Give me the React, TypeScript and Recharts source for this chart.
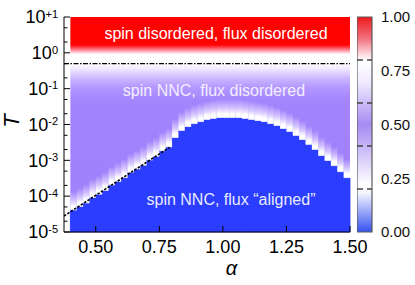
import React from "react";
import {
  ComposedChart,
  BarChart,
  Bar,
  Line,
  XAxis,
  YAxis,
  ReferenceArea,
  ReferenceLine,
} from "recharts";

const FONT = "'Liberation Sans', Arial, Helvetica, sans-serif";

// heat map columns: left edge in alpha, and the top of the "aligned" (blue) phase
const alphaCols = [
  0.4, 0.425, 0.45, 0.475, 0.5, 0.525, 0.55, 0.575, 0.6, 0.625, 0.65, 0.675,
  0.7, 0.725, 0.75, 0.775, 0.8, 0.825, 0.85, 0.875, 0.9, 0.925, 0.95, 0.975,
  1.0, 1.025, 1.05, 1.075, 1.1, 1.125, 1.15, 1.175, 1.2, 1.225, 1.25, 1.275,
  1.3, 1.325, 1.35, 1.375, 1.4, 1.425, 1.45, 1.475,
];
const tcValues = [
  4.0e-5, 5.0e-5, 6.3e-5, 8.9e-5, 1.1e-4, 1.4e-4, 2.0e-4, 2.5e-4, 3.2e-4,
  4.5e-4, 5.6e-4, 7.1e-4, 1.0e-3, 1.26e-3, 1.8e-3, 2.3e-3, 4.2e-3, 6.6e-3,
  8.5e-3, 1.03e-2, 1.17e-2, 1.34e-2, 1.43e-2, 1.52e-2, 1.52e-2, 1.52e-2,
  1.52e-2, 1.43e-2, 1.34e-2, 1.25e-2, 1.17e-2, 1.03e-2, 9.1e-3, 7.5e-3,
  6.2e-3, 4.8e-3, 3.7e-3, 2.7e-3, 1.95e-3, 1.32e-3, 9.6e-4, 6.9e-4, 4.7e-4,
  3.2e-4,
];
const colWidth = 0.025;
const bandFactor = 3.4; // white crossover band above the boundary

const tMin = 1e-5;
const tMax = 10;
const tFlux = 0.5; // spin ordering temperature (dash-dot line)
const alphaMin = 0.375;
const alphaMax = 1.5;
const mapStart = 0.4;

const fitLine = [
  { alpha: 0.375, T: 2.8e-5 },
  { alpha: 0.79, T: 2.3e-3 },
];

const xTicks = [0.5, 0.75, 1, 1.25, 1.5];
const xTopTicks = [0.5, 0.75, 1, 1.25];
const yTicks = [
  1e-5, 2e-5, 5e-5, 1e-4, 2e-4, 5e-4, 1e-3, 2e-3, 5e-3, 1e-2, 2e-2, 5e-2, 1e-1,
  2e-1, 5e-1, 1, 2, 5, 10,
];
const cbTicks = [0, 0.25, 0.5, 0.75, 1];
const cbMinor = [0.2, 0.4, 0.6, 0.8];
const cbData = [{ k: "c", v: 1 }];

const BLUE = "#2b3dff";

const isMajor = (v: number) => {
  const lg = Math.log10(v);
  return Math.abs(lg - Math.round(lg)) < 1e-6;
};

function LeftTick({ x, y, payload }: any) {
  const v = payload.value;
  if (!isMajor(v)) {
    return <line x1={x} x2={x + 3.5} y1={y} y2={y} stroke="#000" />;
  }
  const exp = Math.round(Math.log10(v));
  const sup = exp > 0 ? `+${exp}` : `${exp}`;
  return (
    <g>
      <line x1={x} x2={x + 6} y1={y} y2={y} stroke="#000" />
      <text
        x={x - 6}
        y={y + 6.3}
        textAnchor="end"
        fontSize={18}
        fill="#000"
        fontFamily={FONT}
      >
        10
        <tspan fontSize={11} dy={-5.5}>
          {sup}
        </tspan>
      </text>
    </g>
  );
}

function RightTick({ x, y, payload }: any) {
  const len = isMajor(payload.value) ? 6 : 3.5;
  return <line x1={x} x2={x - len} y1={y} y2={y} stroke="#000" />;
}

function BottomTick({ x, y, payload }: any) {
  return (
    <g>
      <line x1={x} x2={x} y1={y} y2={y - 6} stroke="#000" />
      <text
        x={x}
        y={y + 20.5}
        textAnchor="middle"
        fontSize={18}
        fill="#000"
        fontFamily={FONT}
      >
        {payload.value.toFixed(2)}
      </text>
    </g>
  );
}

function TopTick({ x, y }: any) {
  return <line x1={x} x2={x} y1={y} y2={y + 6} stroke="#000" />;
}

export default function App() {
  return (
    <div
      style={{
        position: "absolute",
        left: 0,
        top: 0,
        width: 415,
        height: 285,
        background: "#fff",
        fontFamily: FONT,
      }}
    >
      <svg width={0} height={0} style={{ position: "absolute" }}>
        <defs>
          <linearGradient id="redGrad" x1="0" y1="0" x2="0" y2="1">
            <stop offset="0" stopColor="#ff0000" />
            <stop offset="0.6" stopColor="#ff0404" />
            <stop offset="0.7" stopColor="#ff7c90" />
            <stop offset="0.8" stopColor="#ffffff" />
            <stop offset="1" stopColor="#ffffff" />
          </linearGradient>
          <linearGradient id="purpleGrad" x1="0" y1="0" x2="0" y2="1">
            <stop offset="0" stopColor="#ffffff" />
            <stop offset="0.03" stopColor="#f1ebff" />
            <stop offset="0.08" stopColor="#cfbcff" />
            <stop offset="0.14" stopColor="#b497ff" />
            <stop offset="0.22" stopColor="#a484fd" />
            <stop offset="1" stopColor="#a080fb" />
          </linearGradient>
          <linearGradient id="bandGrad" x1="0" y1="0" x2="0" y2="1">
            <stop offset="0" stopColor="#ffffff" stopOpacity={0} />
            <stop offset="0.5" stopColor="#ffffff" stopOpacity={0.55} />
            <stop offset="0.78" stopColor="#ffffff" stopOpacity={1} />
            <stop offset="0.93" stopColor="#ffffff" stopOpacity={1} />
            <stop offset="1" stopColor="#c8ceff" stopOpacity={1} />
          </linearGradient>
          <linearGradient id="cbGrad" x1="0" y1="0" x2="0" y2="1">
            <stop offset="0" stopColor="#ee1a1a" />
            <stop offset="0.1" stopColor="#f2707e" />
            <stop offset="0.2" stopColor="#ffffff" />
            <stop offset="0.3" stopColor="#f1ecff" />
            <stop offset="0.5" stopColor="#a68bf2" />
            <stop offset="0.65" stopColor="#d6cafa" />
            <stop offset="0.78" stopColor="#ffffff" />
            <stop offset="0.82" stopColor="#f3f4ff" />
            <stop offset="1" stopColor="#3552f0" />
          </linearGradient>
        </defs>
      </svg>

      <div style={{ position: "absolute", left: 0, top: 0 }}>
        <ComposedChart
          width={415}
          height={285}
          data={fitLine}
          margin={{ top: 17, right: 65, bottom: 23, left: 0 }}
        >
          <ReferenceArea
            x1={mapStart}
            x2={alphaMax}
            y1={tMin}
            y2={tFlux}
            fill="url(#purpleGrad)"
            fillOpacity={1}
            stroke="none"
          />
          <ReferenceArea
            x1={mapStart}
            x2={alphaMax}
            y1={tFlux}
            y2={tMax}
            fill="url(#redGrad)"
            fillOpacity={1}
            stroke="none"
          />
          {alphaCols.map((a, i) => (
            <ReferenceArea
              key={`b-${i}`}
              x1={a}
              x2={a + colWidth}
              y1={tMin}
              y2={tcValues[i]}
              fill={BLUE}
              fillOpacity={1}
              stroke={BLUE}
              strokeWidth={0.8}
            />
          ))}
          {alphaCols.map((a, i) => (
            <ReferenceArea
              key={`w-${i}`}
              x1={a}
              x2={a + colWidth}
              y1={tcValues[i]}
              y2={tcValues[i] * bandFactor}
              fill="url(#bandGrad)"
              fillOpacity={1}
              stroke="none"
            />
          ))}
          <ReferenceLine
            y={tFlux}
            stroke="#000"
            strokeWidth={1.2}
            strokeDasharray="5 1.5 1.5 1.5"
          />
          <Line
            dataKey="T"
            stroke="#000"
            strokeWidth={1.6}
            strokeDasharray="2.5 1.5"
            dot={false}
            type="linear"
            isAnimationActive={false}
          />
          <XAxis
            dataKey="alpha"
            type="number"
            domain={[alphaMin, alphaMax]}
            allowDataOverflow
            ticks={xTicks}
            interval={0}
            height={30}
            tickSize={0}
            tickMargin={0}
            tickLine={false}
            axisLine={{ stroke: "#000" }}
            tick={<BottomTick />}
          />
          <XAxis
            xAxisId="top"
            orientation="top"
            type="number"
            domain={[alphaMin, alphaMax]}
            allowDataOverflow
            ticks={xTopTicks}
            interval={0}
            height={0}
            tickSize={0}
            tickMargin={0}
            tickLine={false}
            axisLine={{ stroke: "#000" }}
            tick={<TopTick />}
          />
          <YAxis
            type="number"
            scale="log"
            domain={[tMin, tMax]}
            allowDataOverflow
            ticks={yTicks}
            interval={0}
            width={64}
            tickSize={0}
            tickMargin={0}
            tickLine={false}
            axisLine={{ stroke: "#000" }}
            tick={<LeftTick />}
          />
          <YAxis
            yAxisId="right"
            orientation="right"
            type="number"
            scale="log"
            domain={[tMin, tMax]}
            allowDataOverflow
            ticks={yTicks}
            interval={0}
            width={0}
            tickSize={0}
            tickMargin={0}
            tickLine={false}
            axisLine={{ stroke: "#000" }}
            tick={<RightTick />}
          />
        </ComposedChart>
      </div>

      <div style={{ position: "absolute", left: 357, top: 0 }}>
        <BarChart
          width={58}
          height={285}
          data={cbData}
          barCategoryGap={0}
          margin={{ top: 17, right: 0, bottom: 53, left: 0 }}
        >
          <XAxis dataKey="k" hide />
          <YAxis
            orientation="right"
            type="number"
            domain={[0, 1]}
            ticks={cbTicks}
            interval={0}
            width={43}
            tickSize={0}
            tickMargin={9}
            tickLine={false}
            axisLine={false}
            tickFormatter={(v: number) => v.toFixed(2)}
            tick={{ fontSize: 15, fill: "#111", fontFamily: FONT }}
          />
          <Bar
            dataKey="v"
            fill="url(#cbGrad)"
            stroke="#5a5a5a"
            strokeWidth={1.2}
            isAnimationActive={false}
          />
          {cbMinor.map((v) => (
            <ReferenceLine
              key={v}
              y={v}
              stroke="#444"
              strokeWidth={1.3}
              strokeDasharray="5 4 6"
            />
          ))}
        </BarChart>
      </div>

      <svg
        width={415}
        height={285}
        style={{ position: "absolute", left: 0, top: 0, pointerEvents: "none" }}
      >
        <text
          x={216}
          y={38.5}
          textAnchor="middle"
          fontSize={16}
          fill="#ffffff"
          fontFamily={FONT}
        >
          spin disordered, flux disordered
        </text>
        <text
          x={214}
          y={96}
          textAnchor="middle"
          fontSize={16}
          fill="#f3efff"
          fontFamily={FONT}
        >
          spin NNC, flux disordered
        </text>
        <text
          x={231}
          y={205}
          textAnchor="middle"
          fontSize={16}
          fill="#e8ebff"
          fontFamily={FONT}
        >
          spin NNC, flux “aligned”
        </text>
        <text
          transform="translate(11,121) rotate(-90)"
          textAnchor="middle"
          dy="0.36em"
          fontSize={22}
          fontStyle="italic"
          fill="#000"
          fontFamily={FONT}
        >
          T
        </text>
        <text
          x={231.5}
          y={275}
          textAnchor="middle"
          fontSize={20}
          fontStyle="italic"
          fill="#000"
          fontFamily={FONT}
        >
          α
        </text>
      </svg>
    </div>
  );
}
